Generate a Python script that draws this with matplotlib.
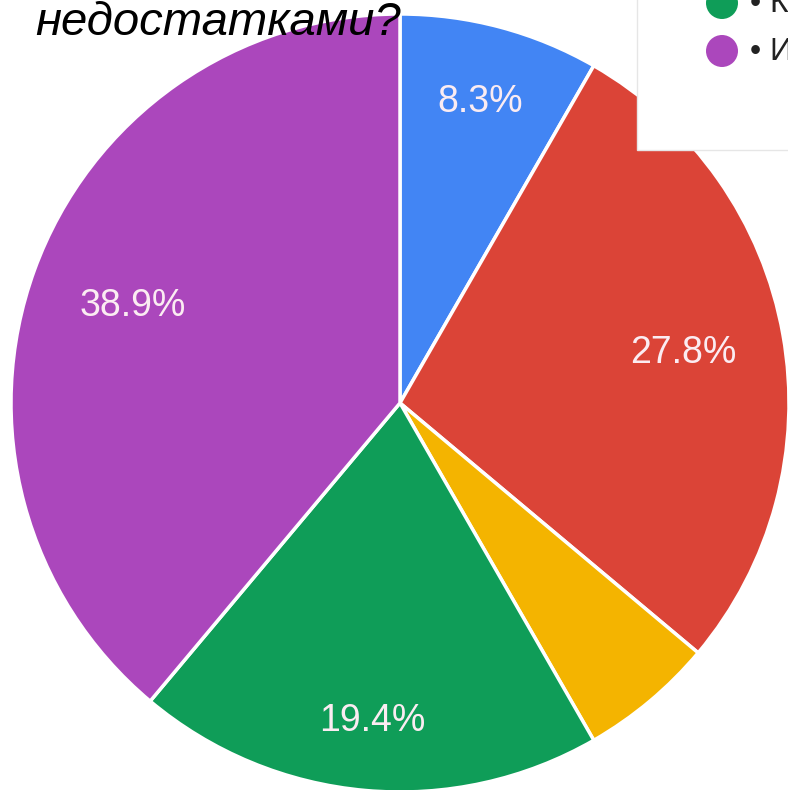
import numpy as np
import matplotlib
matplotlib.use("Agg")
import matplotlib.pyplot as plt
from matplotlib.patches import Rectangle, Circle

values = [8.3, 27.8, 5.6, 19.4, 38.9]
labels_pct = ["8.3%", "27.8%", "", "19.4%", "38.9%"]
colors = ["#4285F4", "#DB4437", "#F4B400", "#0F9D58", "#AB47BC"]
legend_text = ["• К", "• И"]
legend_colors = ["#0F9D58", "#AB47BC"]
title = "недостатками?"

label_dist = [0.80, 0.74, 0.8, 0.82, 0.73]

W, H = 788, 790
fig = plt.figure(figsize=(W / 100, H / 100), dpi=100)
ax = fig.add_axes([0, 0, 1, 1])

cx, cy, R = 400, H - 403, 389
wedges, texts, autotexts = ax.pie(
    values, colors=colors, startangle=90, counterclock=False,
    center=(cx, cy), radius=R, frame=True,
    autopct=lambda p: "", pctdistance=0.8,
    wedgeprops=dict(edgecolor="white", linewidth=2.5),
)
for w, at, lab, d in zip(wedges, autotexts, labels_pct, label_dist):
    mid = np.deg2rad((w.theta1 + w.theta2) / 2)
    at.set_position((cx + d * R * np.cos(mid), cy + d * R * np.sin(mid)))
    at.set_text(lab)
    at.set_color("#fbecf2")
    at.set_fontsize(27)
    at.set_family("Liberation Sans")
ax.set_xlim(0, W)
ax.set_ylim(0, H)
ax.set_aspect("equal")
ax.axis("off")

ax.text(35, H - 23, title, fontsize=34, style="italic", family="Liberation Sans",
        va="center", ha="left", color="black", zorder=8)

# legend box (partly cut)
ax.add_patch(Rectangle((637, H - 150), 160, 160, facecolor="white",
                       edgecolor="#e6e6e6", linewidth=1, zorder=5))
for i, (t, c) in enumerate(zip(legend_text, legend_colors)):
    y = H - 3 - i * 48
    ax.add_patch(Circle((722, y), 16, facecolor=c, edgecolor="none", zorder=6))
    ax.text(750, y - 1, t, fontsize=23, va="center", ha="left", color="#222222",
            family="Liberation Sans", zorder=7)

fig.savefig("out.png", dpi=100)
